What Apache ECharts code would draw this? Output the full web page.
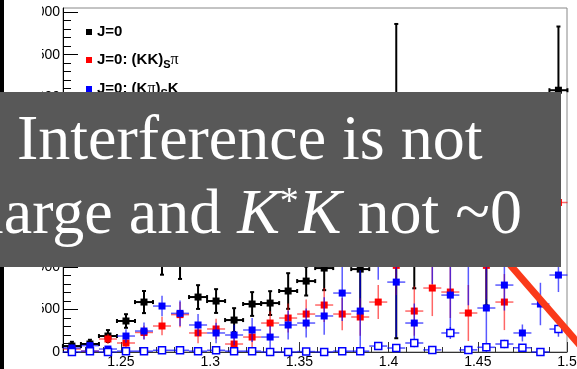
<!DOCTYPE html>
<html>
<head>
<meta charset="utf-8">
<script src="https://cdn.jsdelivr.net/npm/echarts@6/dist/echarts.min.js"></script>
<style>
  html, body { margin: 0; padding: 0; background: #fff; }
  #chart { width: 577px; height: 369px; }
</style>
</head>
<body>
<div id="chart"></div>
<script>
// bin centres on the mass axis
const binCenters = [1.2225, 1.2326, 1.2427, 1.2528, 1.2629, 1.2730, 1.2831, 1.2932, 1.3033, 1.3134,
  1.3235, 1.3336, 1.3437, 1.3538, 1.3639, 1.3740, 1.3841, 1.3942, 1.4043, 1.4144,
  1.4245, 1.4346, 1.4447, 1.4548, 1.4649, 1.4750, 1.4851, 1.4952];
const binHalfWidth = 0.00505;

// J=0 total (black)
const totalVals = [70, 94, 188, 365, 588, 1110, 1060, 647, 600, 376, 565, 576, 718, 835, 988, 1400, 976, 1800, 2012, 1600, 2000, 1550, 1600, 1600, 1500, 1700, 2000, 3082];
const totalErrs = [50, 50, 70, 80, 130, 200, 200, 140, 140, 140, 140, 140, 210, 170, 260, 300, 490, 400, 1850, 850, 550, 500, 500, 1050, 450, 550, 650, 750];
// J=0: (KK)_S pi (red)
const kkVals = [35, 10, 153, 106, 230, 306, 440, 224, 271, 94, 176, 341, 400, 447, 553, 447, 412, 588, 1020, 482, 753, 706, 459, 1020, 588, 1450, 1500, 1760];
const kkErrs = [30, 20, 60, 80, 80, 110, 150, 120, 120, 110, 120, 140, 170, 170, 200, 190, 220, 200, 350, 290, 330, 306, 330, 400, 330, 400, 420, 450];
// J=0: (K pi)_S K (blue)
const kpiVals = [47, 75, 35, 188, 247, 541, 455, 318, 224, 200, 259, 176, 318, 341, 424, 694, 482, 1300, 823, 341, 1250, 670, 1150, 518, 788, 224, 565, 906];
const kpiErrs = [40, 40, 30, 80, 100, 120, 150, 130, 120, 120, 140, 130, 170, 170, 220, 330, 480, 450, 650, 230, 450, 420, 600, 520, 300, 100, 250, 200];
// open blue squares
const openVals = [0, 10, 0, 10, 10, 20, 20, 10, 20, 10, 10, 0, 0, 5, 0, 10, 10, 70, 47, 106, 25, 224, 25, 55, 94, 50, 0, 270];
const openErrs = [10, 10, 10, 15, 15, 20, 20, 15, 20, 15, 15, 10, 10, 10, 10, 15, 15, 40, 35, 50, 25, 70, 25, 40, 50, 40, 10, 90];

const xTickValues = [1.25, 1.3, 1.35, 1.4, 1.45, 1.5];
const xMinorTicks = [1.22, 1.23, 1.24, 1.26, 1.27, 1.28, 1.29, 1.31, 1.32, 1.33, 1.34, 1.36, 1.37, 1.38, 1.39,
  1.41, 1.42, 1.43, 1.44, 1.46, 1.47, 1.48, 1.49];
const yTickValues = [0, 500, 1000, 1500, 2000, 2500, 3000, 3500, 4000];
const yMinorTicks = [100, 200, 300, 400, 600, 700, 800, 900, 1100, 1200, 1300, 1400, 1600, 1700, 1800, 1900,
  2100, 2200, 2300, 2400, 2600, 2700, 2800, 2900, 3100, 3200, 3300, 3400, 3600, 3700, 3800, 3900];

const seriesNames = ['J=0', 'J=0: (KK)Sπ', 'J=0: (Kπ)SK'];
const legendLabels = {
  'J=0': 'J=0',
  'J=0: (KK)Sπ': 'J=0: (KK){sub|S}{pi|π}',
  'J=0: (Kπ)SK': 'J=0: (K{pi|π}){sub|S}K'
};

const X_MIN = 1.2175, X_MAX = 1.5;

function errorSeries(name, vals, errs, opt) {
  return {
    name: name,
    type: 'custom',
    z: opt.z,
    clip: false,
    itemStyle: { color: opt.color },
    data: binCenters.map((x, i) => [x, vals[i], errs[i]]),
    renderItem: function (params, api) {
      const x = api.value(0), y = api.value(1), e = api.value(2);
      const c = api.coord([x, y]);
      const l = api.coord([x - binHalfWidth, y]);
      const r = api.coord([x + binHalfWidth, y]);
      const t = api.coord([x, y + e]);
      const b = api.coord([x, Math.max(0, y - e)]);
      const ls = { stroke: opt.barColor, lineWidth: opt.lineWidth };
      const kids = [
        { type: 'line', shape: { x1: l[0], y1: c[1], x2: r[0], y2: c[1] }, style: ls },
        { type: 'line', shape: { x1: c[0], y1: t[1], x2: c[0], y2: b[1] }, style: ls }
      ];
      if (opt.caps) {
        kids.push({ type: 'line', shape: { x1: c[0] - 2, y1: t[1], x2: c[0] + 2, y2: t[1] }, style: ls });
        kids.push({ type: 'line', shape: { x1: c[0] - 2, y1: b[1], x2: c[0] + 2, y2: b[1] }, style: ls });
        kids.push({ type: 'line', shape: { x1: l[0], y1: c[1] - 2, x2: l[0], y2: c[1] + 2 }, style: ls });
        kids.push({ type: 'line', shape: { x1: r[0], y1: c[1] - 2, x2: r[0], y2: c[1] + 2 }, style: ls });
      }
      const s = opt.size;
      kids.push({
        type: 'rect',
        shape: { x: c[0] - s / 2, y: c[1] - s / 2, width: s, height: s },
        style: opt.open ? { fill: '#fff', stroke: opt.color, lineWidth: 1.5 } : { fill: opt.color }
      });
      return { type: 'group', children: kids };
    }
  };
}

const chart = echarts.init(document.getElementById('chart'));
chart.setOption({
  animation: false,
  grid: {
    left: 63, right: 10, top: 8, bottom: 17,
    show: true, borderColor: '#888', borderWidth: 1, backgroundColor: 'transparent',
    outerBoundsMode: 'none'
  },
  legend: {
    data: seriesNames.map(n => ({ name: n, icon: 'rect' })),
    orient: 'vertical',
    left: 81, top: 18,
    itemWidth: 6, itemHeight: 6, itemGap: 9,
    selectedMode: false,
    formatter: name => legendLabels[name],
    textStyle: {
      fontFamily: 'Liberation Sans', fontWeight: 'bold', fontSize: 15, color: '#000', lineHeight: 18,
      rich: {
        sub: { fontFamily: 'Liberation Sans', fontWeight: 'bold', fontSize: 11, color: '#000', lineHeight: 18, padding: [9, 0, 0, 0] },
        pi: { fontFamily: 'Liberation Serif', fontWeight: 'normal', fontSize: 16, color: '#000', lineHeight: 18 }
      }
    }
  },
  xAxis: [
    {
      type: 'value', min: X_MIN, max: X_MAX, position: 'bottom',
      axisLine: { lineStyle: { color: '#333', width: 1 } },
      axisTick: { inside: true, length: 10, customValues: xTickValues, lineStyle: { color: '#333' } },
      axisLabel: { customValues: xTickValues, fontFamily: 'Liberation Sans', fontSize: 14, color: '#000', margin: 3 },
      splitLine: { show: false }
    },
    {
      type: 'value', min: X_MIN, max: X_MAX, position: 'bottom',
      axisLine: { show: false },
      axisTick: { inside: true, length: 5, customValues: xMinorTicks, lineStyle: { color: '#333' } },
      axisLabel: { show: false },
      splitLine: { show: false }
    }
  ],
  yAxis: [
    {
      type: 'value', min: 0, max: 4050, position: 'left',
      axisLine: { show: true, lineStyle: { color: '#000', width: 1 } },
      axisTick: { show: true, inside: true, length: 15, customValues: yTickValues, lineStyle: { color: '#000' } },
      axisLabel: { customValues: yTickValues, fontFamily: 'Liberation Sans', fontSize: 14, color: '#000', margin: 3 },
      splitLine: { show: false }
    },
    {
      type: 'value', min: 0, max: 4050, position: 'left',
      axisLine: { show: false },
      axisTick: { show: true, inside: true, length: 8, customValues: yMinorTicks, lineStyle: { color: '#000' } },
      axisLabel: { show: false },
      splitLine: { show: false }
    }
  ],
  series: [
    errorSeries(seriesNames[0], totalVals, totalErrs, { color: '#000', barColor: '#000', lineWidth: 2, size: 7, caps: true, z: 2 }),
    errorSeries(seriesNames[1], kkVals, kkErrs, { color: '#ff0000', barColor: 'rgba(255,0,0,0.6)', lineWidth: 1.5, size: 7, z: 3 }),
    errorSeries(seriesNames[2], kpiVals, kpiErrs, { color: '#0000ff', barColor: 'rgba(0,0,255,0.65)', lineWidth: 1.5, size: 7, z: 4 }),
    errorSeries('open', openVals, openErrs, { color: '#0000ff', barColor: 'rgba(0,0,255,0.7)', lineWidth: 1.5, size: 7, open: true, z: 5 })
  ],
  graphic: [
    // cropped edge of the slide
    { type: 'rect', shape: { x: 4, y: 0, width: 38, height: 369 }, style: { fill: '#fff' }, z: 100 },
    { type: 'rect', shape: { x: 0, y: 0, width: 4, height: 369 }, style: { fill: '#000' }, z: 101 },
    { type: 'line', shape: { x1: 505, y1: 259, x2: 584, y2: 350 }, style: { stroke: '#fa3a1a', lineWidth: 7 }, z: 102 },
    { type: 'rect', shape: { x: 0, y: 92, width: 561, height: 175 }, style: { fill: '#585858' }, z: 110 },
    {
      type: 'text', x: 17, y: 142, z: 120,
      style: { text: 'Interference is not', fill: '#fff', font: '64px "Liberation Serif"', verticalAlign: 'middle' }
    },
    {
      type: 'text', x: -14, y: 216, z: 120,
      style: {
        text: '{n|large and }{i|K}{s|*}{i|K}{n| not ~0}',
        verticalAlign: 'middle',
        rich: {
          n: { fill: '#fff', fontFamily: 'Liberation Serif', fontSize: 64 },
          i: { fill: '#fff', fontFamily: 'Liberation Serif', fontSize: 64, fontStyle: 'italic' },
          s: { fill: '#fff', fontFamily: 'Liberation Serif', fontSize: 38, verticalAlign: 'top' }
        }
      }
    }
  ]
});
</script>
</body>
</html>
